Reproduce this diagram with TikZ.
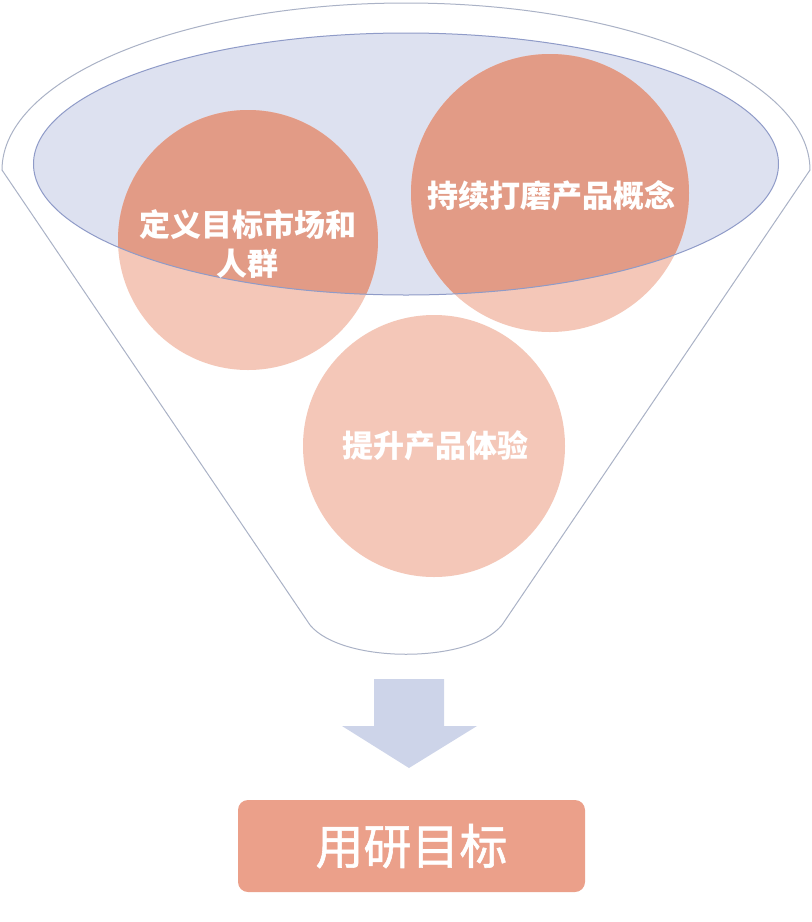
\documentclass[tikz,border=0pt]{standalone}
\usepackage{fontspec}
\newfontfamily\cjk{Noto Sans CJK SC}
\newfontfamily\cjkgoal[FakeBold=1.2]{Noto Sans CJK SC}
\usepackage{tikz}
\usetikzlibrary{positioning}
\definecolor{funnelline}{HTML}{AAB2C6}
\definecolor{bowlblue}{HTML}{DDE1F0}
\definecolor{bowlline}{HTML}{8F9BC8}
\definecolor{salmondeep}{HTML}{E29B86}
\definecolor{salmonpale}{HTML}{F4C7B8}
\definecolor{arrowblue}{HTML}{CDD4E9}
\definecolor{goalsalmon}{HTML}{EBA08A}

\begin{document}
\begin{tikzpicture}[x=0.5pt, y=-0.5pt,
        funnel/.style={draw=funnelline, line width=0.5pt, fill=white},
        ball/.style={circle, fill=salmonpale, inner sep=0pt},
        balltext/.style={font=\cjk\bfseries\fontsize{15.5}{19.5}\selectfont, text=white, align=center, inner sep=0pt},
        goalbox/.style={fill=goalsalmon, rounded corners=5pt, minimum width=173.5pt, minimum height=46pt, font=\cjkgoal\fontsize{24}{28}\selectfont, text=white}
    ]
    \useasboundingbox (0,0) rectangle (812,922);

    % === Funnel ===
    \draw[funnel] (2,170) arc[start angle=180, end angle=0, x radius=202pt, y radius=83.5pt]
        -- (502,625) .. controls (470,664) and (342,664) .. (310,625) -- cycle;
    \fill[bowlblue] (406,164) ellipse[x radius=186.25pt, y radius=65.5pt];

    % === Circles ===
    \node[ball, minimum size=130pt] (market) at (248,240) {};
    \node[ball, minimum size=139pt] (concept) at (550,193) {};
    \node[ball, minimum size=131pt] (experience) at (434,446) {};
    % inside the bowl the circles are deeper
    \begin{scope}
        \clip (406,164) ellipse[x radius=186.25pt, y radius=65.5pt];
        \fill[salmondeep] (market.center) circle[radius=65pt];
        \fill[salmondeep] (concept.center) circle[radius=69.5pt];
    \end{scope}
    \draw[bowlline, line width=0.5pt] (406,164) ellipse[x radius=186.25pt, y radius=65.5pt];

    % Labels
    \node[balltext] (market label) at (248,244) {定义目标市场和\\人群};
    \node[balltext] (concept label) at (551,196) {持续打磨产品概念};
    \node[balltext] (experience label) at (435,446) {提升产品体验};

    % === Arrow and goal ===
    \coordinate (arrow top) at (409,679);
    \coordinate (arrow tip) at (409,768);
    \fill[arrowblue] (arrow top) ++(-35,0) -- ++(70,0) -- ++(0,47) -- (477,726) -- (arrow tip)
        -- (342,726) -- (374,726) -- cycle;
    \node[goalbox] (goal) at (411.5,846) {用研目标};

    \end{tikzpicture}
\end{document}
